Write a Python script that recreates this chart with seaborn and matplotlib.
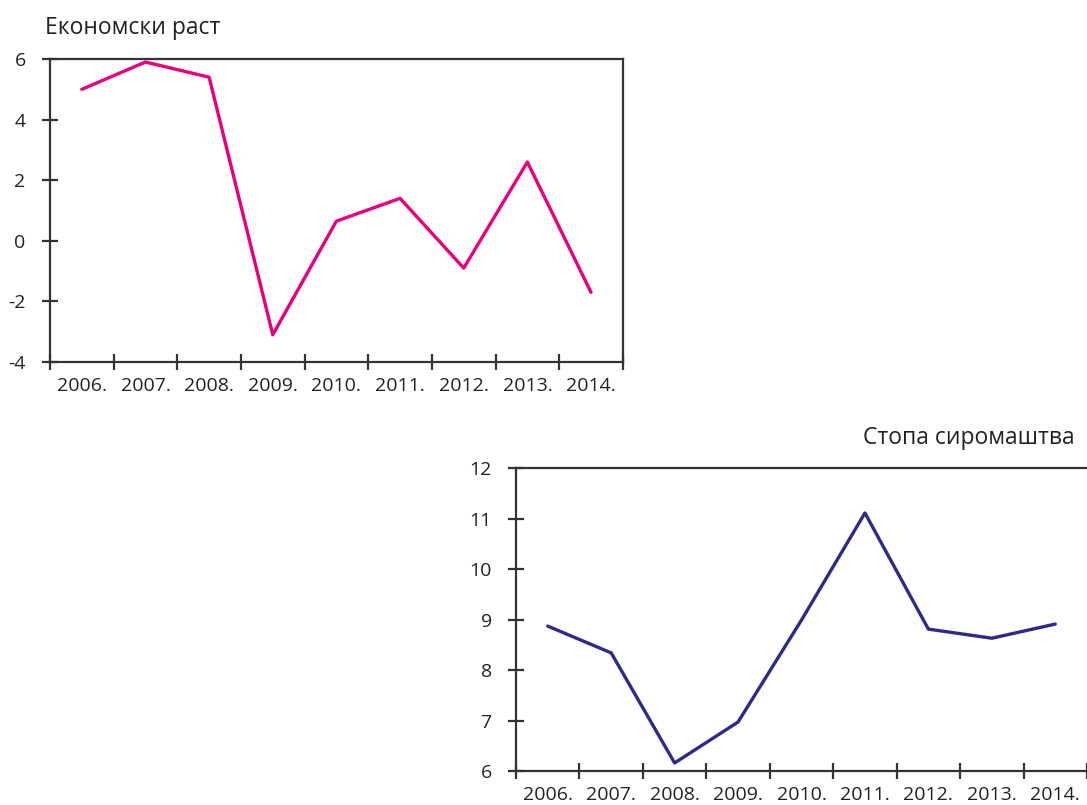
import pandas as pd
import matplotlib
matplotlib.use("Agg")
import matplotlib.pyplot as plt
import seaborn as sns

years = ["2006.", "2007.", "2008.", "2009.", "2010.", "2011.", "2012.", "2013.", "2014."]
growth = [5.0, 5.9, 5.4, -3.1, 0.65, 1.4, -0.9, 2.6, -1.7]
poverty = [8.87, 8.34, 6.16, 6.97, 8.99, 11.11, 8.81, 8.63, 8.91]

growth_ticks = [-4, -2, 0, 2, 4, 6]
poverty_ticks = [6, 7, 8, 9, 10, 11, 12]

sns.set_theme(style="white")
plt.rcParams["font.family"] = ["Open Sans", "DejaVu Sans"]

DARK = "#333333"


def style_axes(ax, yticks):
    n = len(years)
    ax.set_xlim(-0.5, n - 0.5)
    ax.set_ylim(yticks[0], yticks[-1])
    ax.set_yticks(yticks)
    ax.set_yticklabels([str(t) for t in yticks])
    # major ticks sit between categories, labels centred on minor ticks
    ax.set_xticks([i - 0.5 for i in range(n + 1)])
    ax.set_xticklabels([])
    ax.set_xticks(range(n), minor=True)
    ax.set_xticklabels(years, minor=True)
    ax.tick_params(axis="x", which="major", bottom=True, direction="inout",
                   length=11, width=1.6, color=DARK)
    ax.tick_params(axis="x", which="minor", bottom=True, length=0, pad=11,
                   labelsize=14, labelcolor="#222222")
    ax.tick_params(axis="y", left=True, direction="inout", length=11, width=1.6,
                   color=DARK, pad=12, labelsize=14, labelcolor="#222222")
    ax.set_xlabel("")
    ax.set_ylabel("")
    for sp in ax.spines.values():
        sp.set_color(DARK)
        sp.set_linewidth(1.6)
    if ax.get_legend() is not None:
        ax.get_legend().remove()


fig = plt.figure(figsize=(10.87, 8.05), dpi=100)

df_g = pd.DataFrame({"x": range(len(years)), "y": growth})
ax1 = fig.add_axes([0.046, 0.5503, 0.527, 0.3764])
sns.lineplot(data=df_g, x="x", y="y", ax=ax1, color="#E6007E", linewidth=2.4)
style_axes(ax1, growth_ticks)
fig.text(0.041, 0.965, "Економски раст", fontsize=16.5, color="#222222", ha="left", va="center")

df_p = pd.DataFrame({"x": range(len(years)), "y": poverty})
ax2 = fig.add_axes([0.4747, 0.0422, 0.5253, 0.3764])
sns.lineplot(data=df_p, x="x", y="y", ax=ax2, color="#2E2A85", linewidth=2.4)
style_axes(ax2, poverty_ticks)
ax2.spines["right"].set_visible(False)
fig.text(0.989, 0.456, "Стопа сиромаштва", fontsize=16.5, color="#222222", ha="right", va="center")

fig.savefig("out.png", dpi=100)
